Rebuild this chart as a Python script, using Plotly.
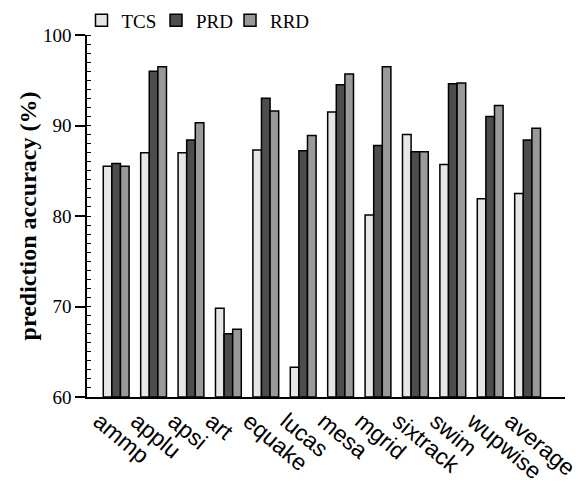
import plotly.graph_objects as go

categories = ["ammp", "applu", "apsi", "art", "equake", "lucas", "mesa",
              "mgrid", "sixtrack", "swim", "wupwise", "average"]
tcs = [85.5, 87.0, 87.0, 69.8, 87.3, 63.3, 91.5, 80.1, 89.0, 85.7, 81.9, 82.5]
prd = [85.8, 96.0, 88.4, 67.0, 93.0, 87.2, 94.5, 87.8, 87.1, 94.6, 91.0, 88.4]
rrd = [85.5, 96.5, 90.3, 67.5, 91.6, 88.9, 95.7, 96.5, 87.1, 94.7, 92.2, 89.7]
y_ticks = [60, 70, 80, 90, 100]

series = [("TCS", tcs, "#e6e6e6", "legend"),
          ("PRD", prd, "#4d4d4d", "legend2"),
          ("RRD", rrd, "#999999", "legend3")]
legend_x = [-0.0115, 0.1444, 0.2992]

fig = go.Figure()
xs = list(range(len(categories)))
for name, vals, col, lg in series:
    fig.add_trace(go.Bar(
        x=xs, y=[v - 60 for v in vals], base=60, name=name, legend=lg,
        marker=dict(color=col, line=dict(color="black", width=1.5)),
    ))

legend_style = dict(orientation="h", xanchor="left", y=1.04, yanchor="middle",
                    font=dict(size=19, family="Liberation Serif"),
                    itemwidth=30, bgcolor="rgba(0,0,0,0)")

# page body has an 8px margin, so the figure is 8px smaller and margins shifted
fig.update_layout(
    width=577, height=477,
    margin=dict(l=79, r=20, t=27, b=88, autoexpand=False),
    paper_bgcolor="white", plot_bgcolor="white",
    barmode="group", bargap=0.31, bargroupgap=0,
    font=dict(family="Liberation Serif", color="black"),
    legend=dict(x=legend_x[0], **legend_style),
    legend2=dict(x=legend_x[1], **legend_style),
    legend3=dict(x=legend_x[2], **legend_style),
    showlegend=True,
)
fig.update_xaxes(
    range=[-0.78, 12.0], tickmode="array", tickvals=xs, ticktext=categories,
    tickangle=40, tickfont=dict(family="Liberation Sans", size=23),
    ticklabelshift=-17, automargin=False,
    showline=True, linecolor="black", linewidth=1.5, ticks="", showgrid=False,
    zeroline=False,
)
fig.update_yaxes(
    range=[60, 100], tickmode="array", tickvals=y_ticks, automargin=False,
    ticks="outside", ticklen=10, tickwidth=1.5, tickcolor="black",
    minor=dict(ticks="inside", dtick=1, ticklen=4, tickwidth=1.2, tickcolor="black", showgrid=False),
    showline=True, linecolor="black", linewidth=1.5, showgrid=False, zeroline=False,
    tickfont=dict(size=19, family="Liberation Serif"),
    title=dict(text="<b>prediction accuracy (%)</b>", font=dict(size=24, family="Liberation Serif"),
               standoff=0),
)

fig.write_html("out.html")
